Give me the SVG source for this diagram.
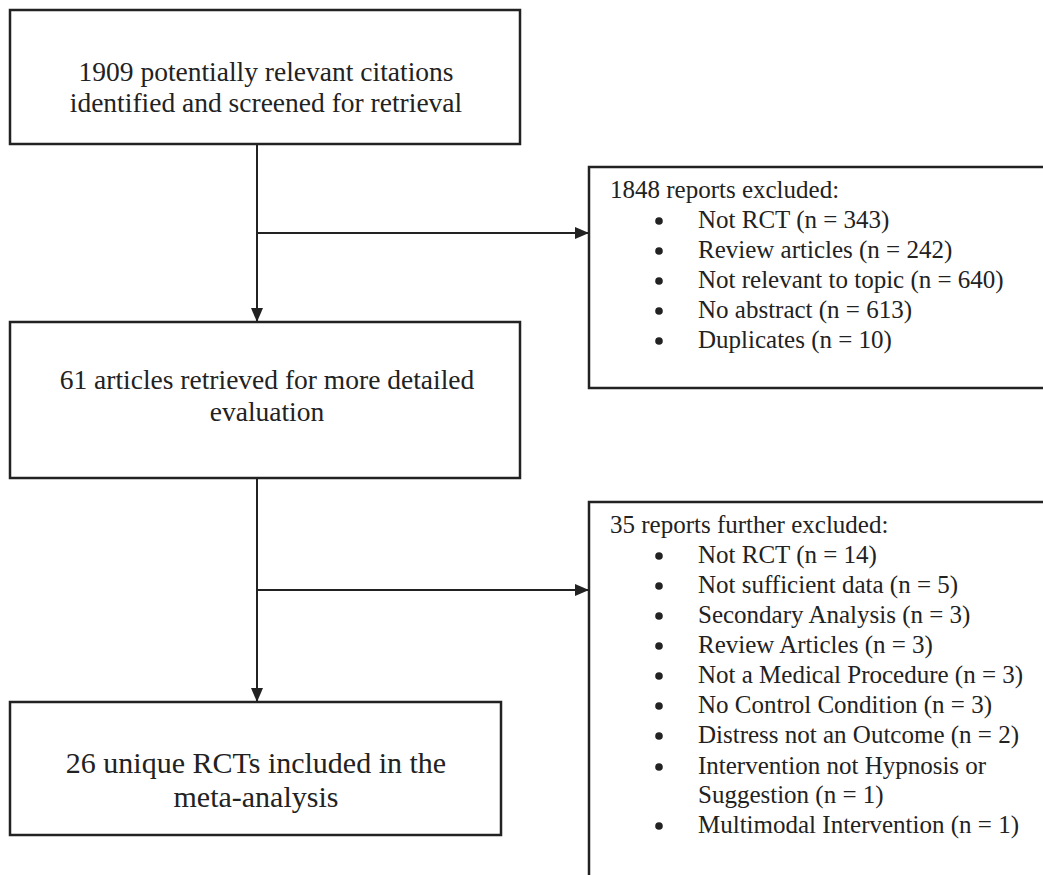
<svg xmlns="http://www.w3.org/2000/svg" width="1043" height="875" viewBox="0 0 1043 875">
<style>
text{font-family:"Liberation Serif","Times New Roman",Times,serif;fill:#222}
.c{text-anchor:middle;font-size:27.5px}
.big{font-size:30px}
.r{font-size:25px}
.box{fill:#fff;stroke:#222;stroke-width:2.5}
.ln{stroke:#222;stroke-width:2;fill:none}
.bul{fill:#222}
</style>
<defs>
<marker id="ah" viewBox="0 0 14 12" refX="14" refY="6" markerWidth="14" markerHeight="12" markerUnits="userSpaceOnUse" orient="auto">
<path d="M0,0 L14,6 L0,12 Z" fill="#222"/>
</marker>
</defs>
<rect width="1043" height="875" fill="#fff"/>
<g id="connectors">
<line class="ln" x1="257" y1="144" x2="257" y2="322" marker-end="url(#ah)"/>
<line class="ln" x1="257" y1="233" x2="589" y2="233" marker-end="url(#ah)"/>
<line class="ln" x1="257" y1="478" x2="257" y2="702" marker-end="url(#ah)"/>
<line class="ln" x1="257" y1="590" x2="589" y2="590" marker-end="url(#ah)"/>
</g>
<g id="n1">
<rect class="box" x="10" y="10" width="510" height="134"/>
<text class="c" x="266" y="81">1909 potentially relevant citations</text>
<text class="c" x="266" y="112">identified and screened for retrieval</text>
</g>
<g id="n2">
<rect class="box" x="10" y="322" width="510" height="156"/>
<text class="c" x="267" y="389">61 articles retrieved for more detailed</text>
<text class="c" x="267" y="421">evaluation</text>
</g>
<g id="n3">
<rect class="box" x="10" y="702" width="491" height="133"/>
<text class="c big" x="256" y="773">26 unique RCTs included in the</text>
<text class="c big" x="256" y="807">meta-analysis</text>
</g>
<g id="n4">
<rect class="box" x="589" y="167" width="460" height="221"/>
<text class="r" x="610" y="198">1848 reports excluded:</text>
<circle class="bul" cx="659" cy="221" r="3.8"/><text class="r" x="698" y="228">Not RCT (n = 343)</text>
<circle class="bul" cx="659" cy="251" r="3.8"/><text class="r" x="698" y="258">Review articles (n = 242)</text>
<circle class="bul" cx="659" cy="281" r="3.8"/><text class="r" x="698" y="288">Not relevant to topic (n = 640)</text>
<circle class="bul" cx="659" cy="311" r="3.8"/><text class="r" x="698" y="318">No abstract (n = 613)</text>
<circle class="bul" cx="659" cy="341" r="3.8"/><text class="r" x="698" y="348">Duplicates (n = 10)</text>
</g>
<g id="n5">
<rect class="box" x="589" y="502" width="460" height="400"/>
<text class="r" x="610" y="533">35 reports further excluded:</text>
<circle class="bul" cx="659" cy="556" r="3.8"/><text class="r" x="698" y="563">Not RCT (n = 14)</text>
<circle class="bul" cx="659" cy="586" r="3.8"/><text class="r" x="698" y="593">Not sufficient data (n = 5)</text>
<circle class="bul" cx="659" cy="616" r="3.8"/><text class="r" x="698" y="623">Secondary Analysis (n = 3)</text>
<circle class="bul" cx="659" cy="646" r="3.8"/><text class="r" x="698" y="653">Review Articles (n = 3)</text>
<circle class="bul" cx="659" cy="676" r="3.8"/><text class="r" x="698" y="683">Not a Medical Procedure (n = 3)</text>
<circle class="bul" cx="659" cy="706" r="3.8"/><text class="r" x="698" y="713">No Control Condition (n = 3)</text>
<circle class="bul" cx="659" cy="736" r="3.8"/><text class="r" x="698" y="743">Distress not an Outcome (n = 2)</text>
<circle class="bul" cx="659" cy="767" r="3.8"/><text class="r" x="698" y="774">Intervention not Hypnosis or</text>
<text class="r" x="698" y="803">Suggestion (n = 1)</text>
<circle class="bul" cx="659" cy="826" r="3.8"/><text class="r" x="698" y="833">Multimodal Intervention (n = 1)</text>
</g>
</svg>
